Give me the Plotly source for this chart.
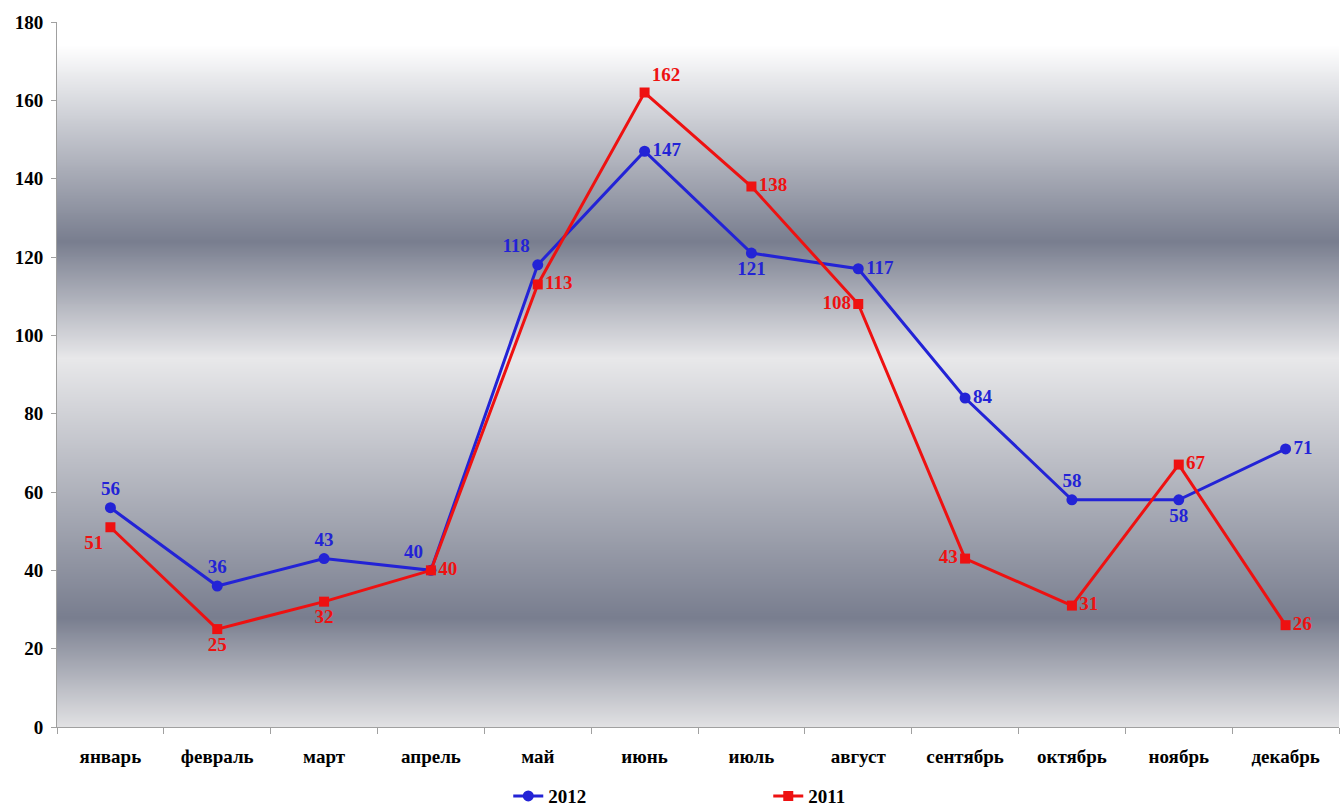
import base64
import struct
import zlib

import numpy as np
import plotly.graph_objects as go

months = ["январь", "февраль", "март", "апрель", "май", "июнь",
          "июль", "август", "сентябрь", "октябрь", "ноябрь", "декабрь"]
values_2012 = [56, 36, 43, 40, 118, 147, 121, 117, 84, 58, 58, 71]
values_2011 = [51, 25, 32, 40, 113, 162, 138, 108, 43, 31, 67, 26]

pos_2012 = ["top center", "top center", "top center", "top left", "top left", "middle right",
            "bottom center", "middle right", "middle right", "top center", "bottom center", "middle right"]
pos_2011 = ["bottom left", "bottom center", "bottom center", "middle right", "middle right", "top right",
            "middle right", "middle left", "middle left", "middle right", "middle right", "middle right"]

BLUE = "#2323d6"
RED = "#ee1111"
FONT = "Liberation Serif"
FSIZE = 19


def gradient_png(height=720, width=4):
    """Vertical banded gray gradient as a base64 PNG data URI."""
    stops_v = [0, 28, 94, 124, 174, 180]
    stops_c = np.array([
        [226, 226, 228],
        [121, 126, 143],
        [232, 232, 234],
        [121, 126, 143],
        [255, 255, 255],
        [255, 255, 255],
    ], dtype=float)
    rows = b""
    for r in range(height):
        v = 180.0 * (1 - (r + 0.5) / height)
        rgb = bytes(int(round(np.interp(v, stops_v, stops_c[:, k]))) for k in range(3))
        rows += b"\x00" + rgb * width

    def chunk(tag, data):
        c = struct.pack(">I", len(data)) + tag + data
        return c + struct.pack(">I", zlib.crc32(tag + data) & 0xFFFFFFFF)

    png = b"\x89PNG\r\n\x1a\n"
    png += chunk(b"IHDR", struct.pack(">IIBBBBB", width, height, 8, 2, 0, 0, 0))
    png += chunk(b"IDAT", zlib.compress(rows, 9))
    png += chunk(b"IEND", b"")
    return "data:image/png;base64," + base64.b64encode(png).decode()


fig = go.Figure()
fig.add_trace(go.Scatter(
    x=months, y=values_2012, name="2012", mode="lines+markers+text",
    line=dict(color=BLUE, width=3), marker=dict(symbol="circle", size=11, color=BLUE),
    text=[str(v) for v in values_2012], textposition=pos_2012,
    textfont=dict(family=FONT, size=FSIZE, color=BLUE, weight="bold"),
    cliponaxis=False,
))
fig.add_trace(go.Scatter(
    x=months, y=values_2011, name="2011", mode="lines+markers+text",
    line=dict(color=RED, width=3), marker=dict(symbol="square", size=10, color=RED),
    text=[str(v) for v in values_2011], textposition=pos_2011,
    textfont=dict(family=FONT, size=FSIZE, color=RED, weight="bold"),
    cliponaxis=False,
))

fig.update_layout(
    width=1344, height=809,
    margin=dict(l=57, r=5, t=22, b=82, autoexpand=False),
    paper_bgcolor="white", plot_bgcolor="white",
    images=[dict(source=gradient_png(), xref="paper", yref="paper", x=0, y=1,
                 sizex=1, sizey=1, sizing="stretch", xanchor="left", yanchor="top",
                 layer="below")],
    showlegend=True,
    legend=dict(orientation="h", x=0.352, xanchor="left",
                yref="container", y=0.016, yanchor="middle",
                font=dict(family=FONT, size=FSIZE, color="black", weight="bold"),
                entrywidth=215, itemwidth=30, tracegroupgap=0),
    font=dict(family=FONT, size=FSIZE, color="black"),
)
fig.update_xaxes(
    type="category", range=[-0.5, 11.5], tickson="boundaries", ticks="outside", ticklen=6,
    tickcolor="#a0a0a0", showline=True, linecolor="#a0a0a0", linewidth=1,
    showgrid=False, zeroline=False, automargin=False, ticklabelstandoff=12,
    tickfont=dict(family=FONT, size=FSIZE, color="black", weight="bold"),
)
fig.update_yaxes(
    range=[0, 180], dtick=20, ticks="outside", ticklen=5, tickcolor="#a0a0a0",
    showline=True, linecolor="#a0a0a0", linewidth=1, showgrid=False, zeroline=False,
    automargin=False, ticklabelstandoff=4,
    tickfont=dict(family=FONT, size=FSIZE, color="black", weight="bold"),
)

fig.write_html("out.html")
